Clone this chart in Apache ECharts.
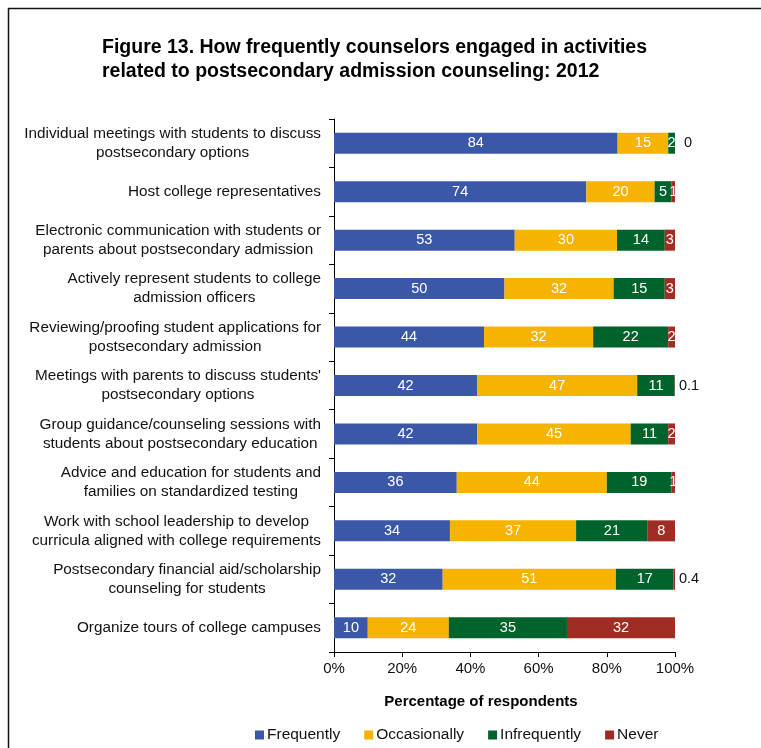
<!DOCTYPE html>
<html>
<head>
<meta charset="utf-8">
<script src="https://cdn.jsdelivr.net/npm/echarts@6/dist/echarts.min.js"></script>
<style>
html,body{margin:0;padding:0;background:#fff;}
#chart{width:761px;height:748px;}
</style>
</head>
<body>
<div id="chart"></div>
<script>
// ---- data ----
var categories = [
  "Individual meetings with students to discuss\npostsecondary options",
  "Host college representatives",
  "Electronic communication with students or\nparents about postsecondary admission",
  "Actively represent students to college\nadmission officers",
  "Reviewing/proofing student applications for\npostsecondary admission",
  "Meetings with parents to discuss students'\npostsecondary options",
  "Group guidance/counseling sessions with\nstudents about postsecondary education",
  "Advice and education for students and\nfamilies on standardized testing",
  "Work with school leadership to develop\ncurricula aligned with college requirements",
  "Postsecondary financial aid/scholarship\ncounseling for students",
  "Organize tours of college campuses"
];
var frequently   = [84, 74, 53, 50, 44, 42, 42, 36, 34, 32, 10];
var occasionally = [15, 20, 30, 32, 32, 47, 45, 44, 37, 51, 24];
var infrequently = [2, 5, 14, 15, 22, 11, 11, 19, 21, 17, 35];
var never        = [0, 1, 3, 3, 2, 0.1, 2, 1, 8, 0.4, 32];
var seriesNames = ["Frequently", "Occasionally", "Infrequently", "Never"];
var xTicks = [0, 20, 40, 60, 80, 100];

// ---- build ----
var all = [frequently, occasionally, infrequently, never];
var colors = ["#3B57A7", "#F6B300", "#00632B", "#A02D24"];
var totals = categories.map(function (_, i) {
  return all.reduce(function (s, arr) { return s + arr[i]; }, 0);
});

var series = all.map(function (arr, si) {
  return {
    name: seriesNames[si],
    type: 'bar',
    stack: 'total',
    barWidth: 21,
    itemStyle: { color: colors[si] },
    label: {
      show: true,
      position: 'inside',
      color: '#fff',
      fontFamily: 'Liberation Sans, Arial, sans-serif',
      fontSize: 14.5,
      formatter: function (p) { return String(arr[p.dataIndex]); }
    },
    data: arr.map(function (v, i) {
      var item = { value: v / totals[i] * 100 };
      if (si === 3 && v < 0.5) {
        item.label = { position: 'right', color: '#111', distance: v === 0 ? 9 : 4 };
      }
      return item;
    })
  };
});

var chart = echarts.init(document.getElementById('chart'), null, { renderer: 'canvas' });
var font = 'Liberation Sans, Arial, sans-serif';
chart.setOption({
  animation: false,
  backgroundColor: '#fff',
  textStyle: { fontFamily: font },
  grid: { left: 334, right: 86, top: 119, bottom: 96, containLabel: false },
  xAxis: {
    type: 'value',
    min: 0, max: 100, interval: 20,
    axisLine: { show: true, lineStyle: { color: '#000', width: 1 } },
    axisTick: { show: true, length: 5, lineStyle: { color: '#000' } },
    splitLine: { show: false },
    axisLabel: {
      color: '#111', fontSize: 15, fontFamily: font, margin: 9,
      formatter: function (v) { return xTicks.indexOf(v) >= 0 ? v + '%' : ''; }
    }
  },
  yAxis: {
    type: 'category',
    inverse: true,
    data: categories,
    axisLine: { show: true, lineStyle: { color: '#000', width: 1 } },
    axisTick: { show: true, length: 5, lineStyle: { color: '#000' } },
    axisLabel: {
      margin: 13,
      align: 'right',
      fontFamily: font,
      fontSize: 15.3,
      color: '#111',
      lineHeight: 19,
      formatter: function (v) {
        return v.split('\n').map(function (l) { return '{c|' + l + '}'; }).join('\n');
      },
      rich: { c: { align: 'center', fontSize: 15.3, lineHeight: 19, color: '#111', fontFamily: font } }
    }
  },
  legend: {
    data: seriesNames,
    left: 250,
    top: 722,
    icon: 'rect',
    itemWidth: 9,
    itemHeight: 9,
    itemGap: 24,
    textStyle: { fontSize: 15.5, color: '#111', fontFamily: font, padding: [0, 0, 0, -2] }
  },
  graphic: [
    {
      type: 'rect',
      shape: { x: 8.5, y: 8.5, width: 800, height: 800 },
      style: { fill: null, stroke: '#111', lineWidth: 1.5 },
      silent: true, z: -1
    },
    {
      type: 'text',
      left: 102, top: 36,
      style: {
        text: 'Figure 13. How frequently counselors engaged in activities\nrelated to postsecondary admission counseling: 2012',
        font: 'bold 19.5px Liberation Sans, Arial, sans-serif',
        fill: '#000',
        lineHeight: 24
      }
    },
    {
      type: 'text',
      x: 481, y: 702,
      style: {
        text: 'Percentage of respondents',
        font: 'bold 15px Liberation Sans, Arial, sans-serif',
        fill: '#000',
        align: 'center',
        verticalAlign: 'middle'
      }
    }
  ],
  series: series
});
</script>
</body>
</html>
